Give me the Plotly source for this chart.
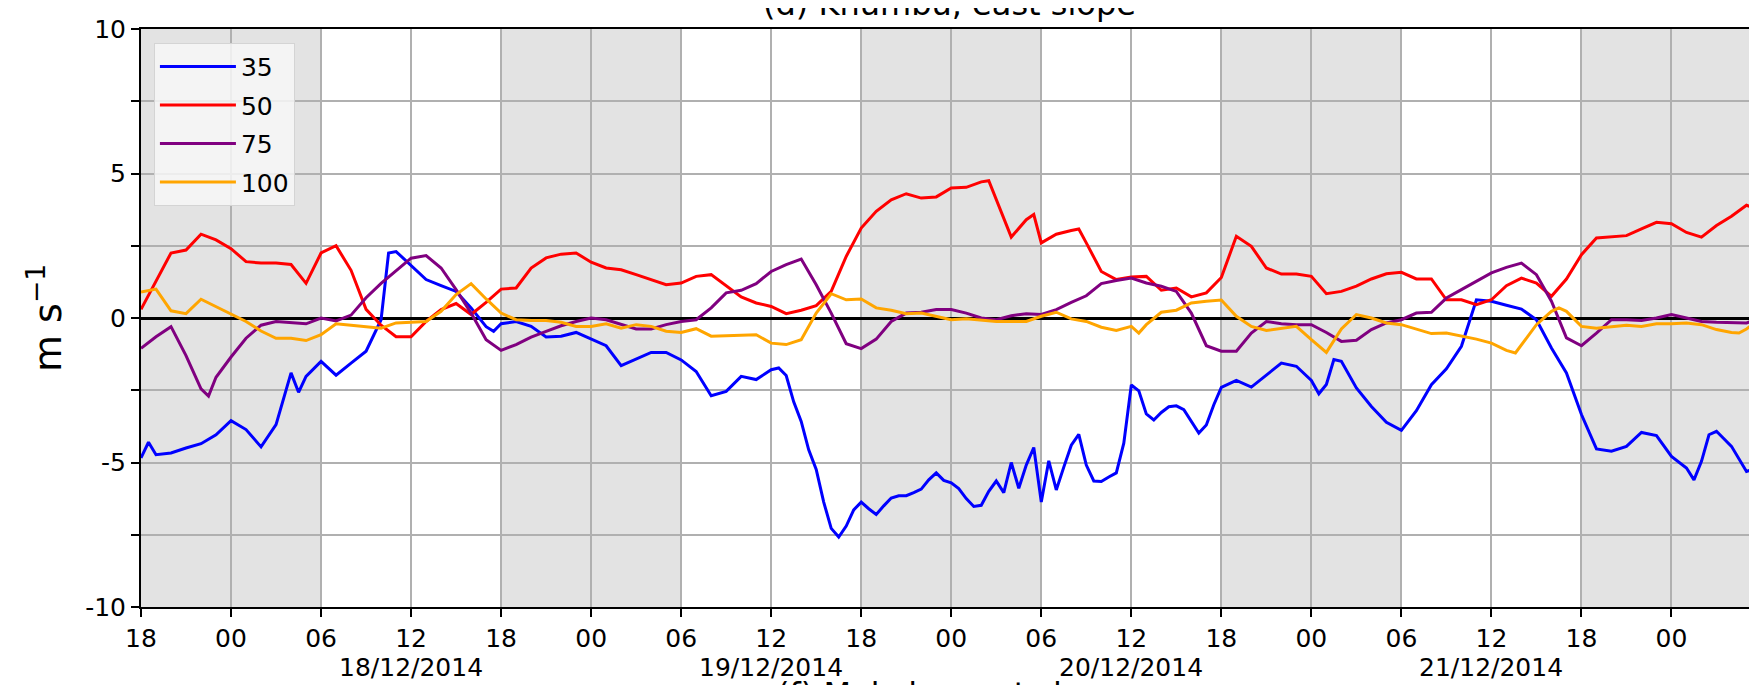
import pandas as pd
import plotly.graph_objects as go

FONT = "DejaVu Sans"
START = pd.Timestamp("2014-12-17 18:00")

# hours after 17/12/2014 18:00, values in m s-1
t_35 = [0, 0.5, 1, 2, 3, 4, 5, 6, 7, 8, 9, 10, 10.5, 11, 12, 13, 14, 15, 16, 16.5, 17,
        18, 19, 20, 21, 22, 23, 23.5, 24, 25, 26, 27, 28, 29, 30, 31, 32, 33, 34, 35,
        36, 37, 38, 39, 40, 41, 42, 42.5, 43, 43.5, 44, 44.5, 45, 45.5, 46, 46.5, 47,
        47.5, 48, 48.5, 49, 49.5, 50, 50.5, 51, 51.5, 52, 52.5, 53, 53.5, 54, 54.5, 55,
        55.5, 56, 56.5, 57, 57.5, 58, 58.5, 59, 59.5, 60, 60.5, 61, 61.5, 62, 62.5, 63,
        63.5, 64, 64.5, 65, 65.5, 66, 66.5, 67, 67.5, 68, 68.5, 69, 69.5, 70, 70.5, 71,
        71.5, 72, 73, 74, 75, 76, 77, 78, 78.5, 79, 79.5, 80, 81, 82, 83, 84, 85, 86, 87,
        88, 89, 90, 91, 92, 93, 94, 95, 96, 97, 98, 99, 100, 101, 102, 103, 103.5, 104,
        104.5, 105, 106, 107, 107.7]
v_35 = [-4.84, -4.3, -4.73, -4.67, -4.5, -4.35, -4.04, -3.55, -3.86, -4.46, -3.69, -1.9, -2.57,
        -2.02, -1.5, -1.98, -1.56, -1.15, -0.06, 2.25, 2.3,
        1.8, 1.33, 1.12, 0.92, 0.35, -0.3, -0.46, -0.2, -0.12, -0.29, -0.66, -0.63, -0.5,
        -0.73, -0.96, -1.65, -1.42, -1.19, -1.19,
        -1.45, -1.85, -2.69, -2.54, -2.02, -2.13, -1.79, -1.73, -1.99, -2.9, -3.58, -4.56,
        -5.24, -6.37, -7.28, -7.58, -7.2,
        -6.64, -6.37, -6.6, -6.8, -6.5, -6.23, -6.15, -6.15, -6.04, -5.92, -5.6, -5.36,
        -5.62, -5.7, -5.9, -6.25,
        -6.52, -6.48, -6.0, -5.64, -6.04, -5.0, -5.89, -5.09, -4.48, -6.37, -4.94, -5.95,
        -5.16, -4.4, -4.03, -5.09,
        -5.64, -5.66, -5.5, -5.36, -4.33, -2.32, -2.52, -3.32, -3.53, -3.27, -3.07, -3.04,
        -3.17, -3.58, -3.98, -3.7,
        -3.0, -2.4, -2.16, -2.39, -1.96, -1.56, -1.67, -2.16, -2.62, -2.3, -1.44, -1.5,
        -2.42, -3.06, -3.61, -3.89, -3.21, -2.31, -1.76,
        -0.98, 0.63, 0.58, 0.44, 0.31, -0.06, -1.04, -1.9, -3.34, -4.53, -4.61, -4.44,
        -3.96, -4.07, -4.79, -5.19, -5.6, -4.96,
        -4.04, -3.92, -4.44, -5.31, -5.19]

t_50 = sorted(list(range(0, 108)) + [56.5, 59.5, 62.5, 107.7])
v_50 = [0.3, 1.3, 2.25, 2.35, 2.9, 2.7, 2.4, 1.95, 1.9, 1.9, 1.85, 1.2, 2.25, 2.5, 1.65, 0.3,
        -0.25, -0.65, -0.65, -0.12, 0.29, 0.5, 0.12, 0.54, 1.0, 1.04, 1.73, 2.08, 2.21, 2.25,
        1.93, 1.73, 1.67, 1.5, 1.33, 1.15, 1.21, 1.44, 1.5, 1.1, 0.73, 0.52, 0.4, 0.15, 0.27,
        0.43, 0.92, 2.13, 3.11, 3.69, 4.09, 4.3, 4.15, 4.19, 4.5, 4.52, 4.71, 4.75, 4.1, 2.8,
        3.4, 3.58, 2.6, 2.9, 3.03, 3.08, 2.6, 1.61, 1.33, 1.42, 1.44, 0.96, 1.04, 0.73, 0.87,
        1.4, 2.83, 2.48, 1.73, 1.52, 1.52, 1.44, 0.84, 0.92, 1.1, 1.35, 1.53, 1.58, 1.35,
        1.35, 0.63, 0.63, 0.46, 0.63, 1.12, 1.38, 1.21, 0.75, 1.35, 2.19, 2.77, 2.8, 2.85,
        3.08, 3.31, 3.26, 2.96, 2.8, 3.2, 3.52, 3.9, 3.77]

t_75 = sorted(list(range(0, 108)) + [4.5, 107.7])
v_75 = [-1.05, -0.65, -0.3, -1.3, -2.45, -2.7, -2.05, -1.35, -0.7, -0.25, -0.12, -0.15, -0.2,
        0.0, -0.1, 0.1, 0.7, 1.2, 1.65, 2.07, 2.16, 1.73, 0.98, 0.17, -0.75, -1.12, -0.92,
        -0.66, -0.46, -0.27, -0.12, 0.0, -0.06, -0.23, -0.38, -0.38, -0.23, -0.12, -0.06,
        0.35, 0.87, 0.96, 1.19, 1.61, 1.85, 2.04, 1.15, 0.17, -0.89, -1.06, -0.73, -0.12,
        0.17, 0.2, 0.29, 0.29, 0.17, 0.0, -0.06, 0.08, 0.15, 0.12, 0.29, 0.54, 0.77, 1.19,
        1.3, 1.38, 1.21, 1.1, 0.92, 0.17, -0.96, -1.15, -1.15, -0.52, -0.12, -0.2, -0.23,
        -0.23, -0.5, -0.81, -0.77, -0.4, -0.17, -0.06, 0.17, 0.2, 0.69, 0.98, 1.27, 1.56,
        1.75, 1.9, 1.5, 0.58, -0.69, -0.96, -0.52, -0.06, -0.06, -0.09, 0.0, 0.12, 0.0,
        -0.12, -0.15, -0.17, -0.17, -0.06]

t_100 = sorted(list(range(0, 108)) + [66.5, 91.6, 94.5, 106.5, 107.7])
v_100 = [0.9, 1.0, 0.25, 0.15, 0.65, 0.4, 0.15, -0.12, -0.45, -0.7, -0.7, -0.78, -0.58, -0.2,
         -0.25, -0.3, -0.35, -0.17, -0.15, -0.12, 0.23, 0.81, 1.19, 0.66, 0.17, -0.06, -0.09,
         -0.09, -0.15, -0.29, -0.29, -0.2, -0.35, -0.23, -0.29, -0.46, -0.5, -0.37, -0.63,
         -0.61, -0.58, -0.58, -0.87, -0.92, -0.75, 0.17, 0.84, 0.63, 0.66, 0.35, 0.27, 0.15,
         0.17, 0.06, -0.06, -0.03, -0.08, -0.12, -0.12, -0.12, 0.06, 0.2, -0.03, -0.12,
         -0.32, -0.43, -0.29, -0.52, -0.23, 0.2, 0.27, 0.52, 0.58, 0.62, 0.06, -0.29, -0.43,
         -0.35, -0.29, -0.75, -1.19, -0.38, 0.12, 0.0, -0.17, -0.23, -0.38, -0.54, -0.52,
         -0.63, -0.73, -0.87, -1.12, -1.21, -0.92, -0.23, 0.23, 0.35, 0.23, -0.29, -0.35,
         -0.29, -0.25, -0.29, -0.2, -0.2, -0.17, -0.23, -0.4, -0.5, -0.52, -0.38, -0.12]

series = [("35", t_35, v_35, "#0000ff"),
          ("50", t_50, v_50, "#ff0000"),
          ("75", t_75, v_75, "#800080"),
          ("100", t_100, v_100, "#ffa500")]

night_starts = ["2014-12-17 18:00", "2014-12-18 18:00", "2014-12-19 18:00",
                "2014-12-20 18:00", "2014-12-21 18:00"]
date_labels = ["18/12/2014", "19/12/2014", "20/12/2014", "21/12/2014"]
x_end = START + pd.Timedelta(hours=107.7)


def to_time(hours):
    return [START + pd.Timedelta(hours=h) for h in hours]


fig = go.Figure()

for name, t, v, color in series:
    fig.add_trace(go.Scatter(
        x=to_time(t), y=v, mode="lines", name=name,
        line=dict(color=color, width=3),
        legendgroup=name,
    ))

# night-time shading 18-06
for s in night_starts:
    x0 = pd.Timestamp(s)
    fig.add_shape(type="rect", xref="x", yref="y", x0=x0, x1=x0 + pd.Timedelta(hours=12),
                  y0=-10, y1=10, fillcolor="#e3e3e3", line_width=0, layer="below")

tick_times = [START + pd.Timedelta(hours=6 * k) for k in range(19)]
tick_text = [t.strftime("%H") for t in tick_times]

for k, lab in enumerate(date_labels):
    fig.add_annotation(x=pd.Timestamp("2014-12-18 12:00") + pd.Timedelta(days=k), y=0,
                       xref="x", yref="paper", yanchor="middle", yshift=-60,
                       text=lab, showarrow=False,
                       font=dict(size=25, color="black", family=FONT))

# panel titles (this panel and the one below, both cut by the crop)
fig.add_annotation(x=0.5, y=1, xref="paper", yref="paper", yanchor="middle", yshift=25,
                   text="(d) Khumbu, east slope", showarrow=False,
                   font=dict(size=32, color="black", family=FONT))
fig.add_annotation(x=0.5, y=0, xref="paper", yref="paper", yanchor="middle", yshift=-87,
                   text="(f) Makalu, east slope", showarrow=False,
                   font=dict(size=32, color="black", family=FONT))

fig.add_annotation(x=-0.0594, y=0.5, xref="paper", yref="paper", textangle=-90,
                   xanchor="center", yanchor="middle",
                   text="m s<sup>−1</sup>", showarrow=False,
                   font=dict(size=38, color="black", family=FONT))

# page body has an 8px margin, so the figure is 8px smaller than the window
fig.update_layout(
    width=1749, height=677,
    paper_bgcolor="white", plot_bgcolor="white",
    font=dict(family=FONT, size=25, color="black"),
    margin=dict(l=133, r=0, t=21, b=78),
    showlegend=True,
    legend=dict(
        x=0.008, y=0.976, xanchor="left", yanchor="top",
        bgcolor="rgba(247,247,247,0.85)", bordercolor="#d4d4d4", borderwidth=1,
        font=dict(size=25, family=FONT), tracegroupgap=3, itemwidth=76,
    ),
)

fig.update_xaxes(
    type="date", range=[START, x_end],
    tickvals=tick_times, ticktext=tick_text,
    showgrid=True, gridcolor="#b0b0b0", gridwidth=1.5,
    showline=True, linecolor="black", linewidth=2, mirror=True,
    ticks="outside", ticklen=8, tickwidth=1.5, tickcolor="black",
    tickfont=dict(size=25), zeroline=False,
)
fig.update_yaxes(
    range=[-10, 10],
    tickvals=[-10, -7.5, -5, -2.5, 0, 2.5, 5, 7.5, 10],
    ticktext=["-10", "", "-5", "", "0", "", "5", "", "10"],
    showgrid=True, gridcolor="#b0b0b0", gridwidth=1.5,
    showline=True, linecolor="black", linewidth=2,
    ticks="outside", ticklen=8, tickwidth=1.5, tickcolor="black",
    tickfont=dict(size=25),
    zeroline=True, zerolinecolor="black", zerolinewidth=3,
)

fig.write_html("out.html")
